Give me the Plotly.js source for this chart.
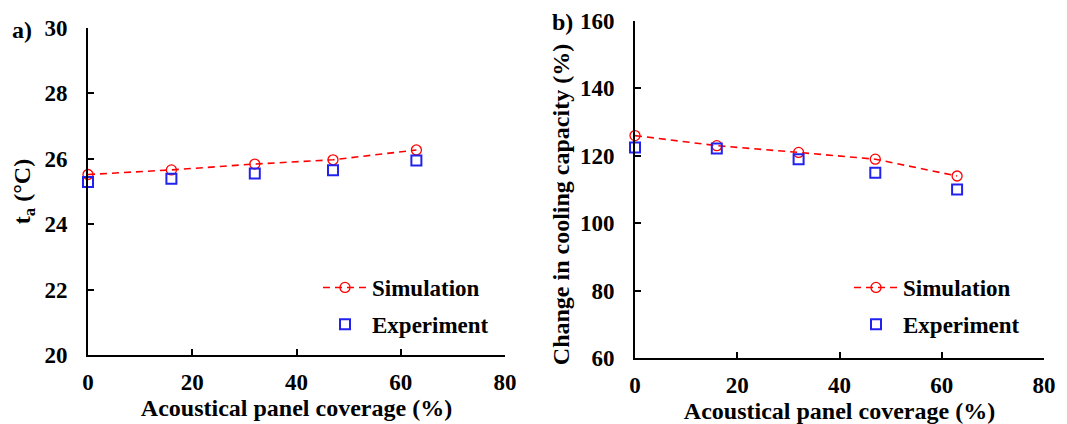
<!DOCTYPE html>
<html><head><meta charset="utf-8">
<script src="https://cdn.plot.ly/plotly-3.0.1.min.js"></script>
<style>html,body{margin:0;padding:0;background:#fff}#chart{width:1067px;height:424px}</style>
</head><body><div id="chart"></div>
<script>
const coverage = [0, 16, 32, 47, 63];
const taSimulation = [25.52, 25.66, 25.84, 25.97, 26.27];
const taExperiment = [25.29, 25.39, 25.55, 25.65, 25.95];
const capSimulation = [126, 123, 121, 119, 114];
const capExperiment = [122.5, 122.2, 119, 115, 110];

const F = 'Liberation Serif';
const simStyle = {mode:'lines+markers', line:{color:'#ff0000', width:1.6, dash:'7px,5px'},
  marker:{symbol:'circle-open', size:10, color:'#ff0000', line:{width:1.3, color:'#ff0000'}}, cliponaxis:false};
const expStyle = {mode:'markers',
  marker:{symbol:'square-open', size:10, color:'#2222ee', line:{width:2, color:'#2222ee'}}, cliponaxis:false};

const data = [
  Object.assign({x:coverage, y:taSimulation, name:'Simulation', xaxis:'x', yaxis:'y', legend:'legend', legendgroup:'a1'}, simStyle),
  Object.assign({x:coverage, y:taExperiment, name:'Experiment', xaxis:'x', yaxis:'y', legend:'legend', legendgroup:'a2'}, expStyle),
  Object.assign({x:coverage, y:capSimulation, name:'Simulation', xaxis:'x2', yaxis:'y2', legend:'legend2', legendgroup:'b1'}, simStyle),
  Object.assign({x:coverage, y:capExperiment, name:'Experiment', xaxis:'x2', yaxis:'y2', legend:'legend2', legendgroup:'b2'}, expStyle)
];

const tf = {family:F, size:23, color:'#000', weight:'bold'};
const axCommon = {showline:true, linecolor:'#000', linewidth:2, ticks:'inside', ticklen:6, tickwidth:2, tickcolor:'#000',
  showgrid:false, zeroline:false, tickfont:tf, automargin:false};
const xTitle = {text:'<b>Acoustical panel coverage (%)</b>', font:{family:F, size:24, color:'#000'}, standoff:1};

const layout = {
  width:1067, height:424, margin:{l:0, r:0, t:0, b:0}, paper_bgcolor:'#fff', plot_bgcolor:'#fff',
  font:{family:F, color:'#000'},
  xaxis: Object.assign({}, axCommon, {domain:[88/1067, 505/1067], range:[0,80], dtick:20, anchor:'y', title:xTitle, ticklabelstandoff:5}),
  yaxis: Object.assign({}, axCommon, {domain:[(424-355)/424, (424-28)/424], range:[20,30], dtick:2, anchor:'x', ticklabelstandoff:14,
    title:{text:'<b>t<sub>a</sub> (°C)</b>', font:{family:F, size:24, color:'#000'}, standoff:7}}),
  xaxis2: Object.assign({}, axCommon, {domain:[635/1067, 1044/1067], range:[0,80], dtick:20, anchor:'y2', title:xTitle, ticklabelstandoff:5}),
  yaxis2: Object.assign({}, axCommon, {domain:[(424-358)/424, (424-21)/424], range:[60,160], dtick:20, anchor:'x2', ticklabelstandoff:14,
    title:{text:'<b>Change in cooling capacity (%)\u00a0\u00a0\u00a0\u00a0\u00a0</b>', font:{family:F, size:24, color:'#000'}, standoff:4}}),
  legend:{x:318/1067, y:1-266/424, xanchor:'left', yanchor:'top', bgcolor:'rgba(0,0,0,0)', tracegroupgap:4, itemwidth:44,
    traceorder:'grouped', font:{family:F, size:23, color:'#000', weight:'bold'}},
  legend2:{x:849/1067, y:1-266/424, xanchor:'left', yanchor:'top', bgcolor:'rgba(0,0,0,0)', tracegroupgap:4, itemwidth:44,
    traceorder:'grouped', font:{family:F, size:23, color:'#000', weight:'bold'}},
  showlegend:true,
  annotations:[
    {text:'<b>a)</b>', x:10/1067, y:1-30/424, xref:'paper', yref:'paper', xanchor:'left', yanchor:'middle', showarrow:false, font:{family:F, size:24, color:'#000'}},
    {text:'<b>b)</b>', x:550/1067, y:1-22/424, xref:'paper', yref:'paper', xanchor:'left', yanchor:'middle', showarrow:false, font:{family:F, size:24, color:'#000'}}
  ]
};
Plotly.newPlot('chart', data, layout, {displayModeBar:false, staticPlot:true});
</script></body></html>
